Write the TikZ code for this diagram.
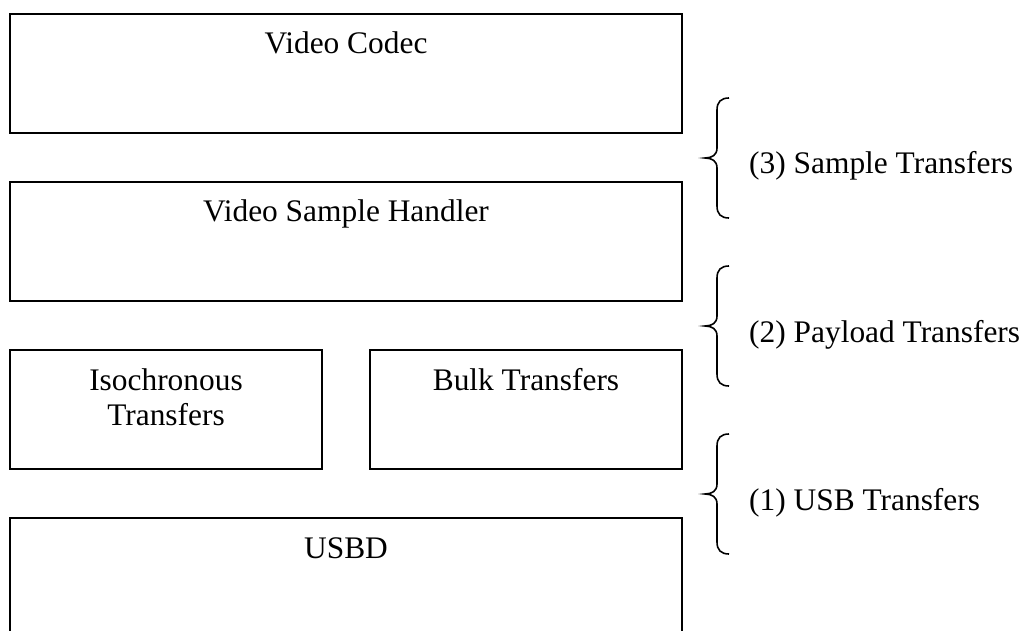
\documentclass[tikz,border=0pt]{standalone}
\usepackage{fontspec}
\setmainfont{Liberation Serif}
\begin{document}
\begin{tikzpicture}[x=1pt,y=-1pt,
  layerbox/.style={draw=black, line width=2pt, rectangle, inner sep=0pt},
  boxtext/.style={inner sep=0pt, font=\fontsize{31.4}{35.5}\selectfont, align=center},
  bracetext/.style={inner sep=0pt, anchor=base west, font=\fontsize{31.4}{35.5}\selectfont},
  bracepath/.style={draw=black, line width=1.6pt}]
\clip (0,0) rectangle (1028,631);
\fill[white] (0,0) rectangle (1028,631);

% boxes
\node[layerbox, minimum width=672pt, minimum height=119pt, anchor=north west] (codec) at (9,13) {};
\node[layerbox, minimum width=672pt, minimum height=119pt, anchor=north west] (handler) at (9,181) {};
\node[layerbox, minimum width=312pt, minimum height=119pt, anchor=north west] (iso) at (9,349) {};
\node[layerbox, minimum width=312pt, minimum height=119pt, anchor=north west] (bulk) at (369,349) {};
\node[layerbox, minimum width=672pt, minimum height=135pt, anchor=north west] (usbd) at (9,517) {};

% box texts
\node[boxtext, anchor=base] (codect) at ([yshift=-41pt]codec.north) {Video Codec};
\node[boxtext, anchor=base] (handlert) at ([yshift=-41pt]handler.north) {Video Sample Handler};
\node[boxtext, anchor=north] (isot) at ([yshift=-19.5pt]iso.north) {Isochronous\\Transfers};
\node[boxtext, anchor=base] (bulkt) at ([yshift=-41pt]bulk.north) {Bulk Transfers};
\node[boxtext, anchor=base] (usbdt) at ([yshift=-41pt]usbd.north) {USBD};

% braces
\foreach \t/\name in {158/b3, 326/b2, 494/b1}{
  \coordinate (\name) at (705,\t);
  \draw[bracepath] (729,\t-60) .. controls (721,\t-60) and (717,\t-56) .. (717,\t-48)
    -- (717,\t-10) .. controls (717,\t-3) and (712,\t) .. (\name)
    .. controls (712,\t) and (717,\t+3) .. (717,\t+10)
    -- (717,\t+48) .. controls (717,\t+56) and (721,\t+60) .. (729,\t+60);
}

% brace labels
\node[bracetext] (l3) at (749,174) {(3) Sample Transfers};
\node[bracetext] (l2) at (749,342) {(2) Payload Transfers};
\node[bracetext] (l1) at (749,510) {(1) USB Transfers};
\end{tikzpicture}
\end{document}
